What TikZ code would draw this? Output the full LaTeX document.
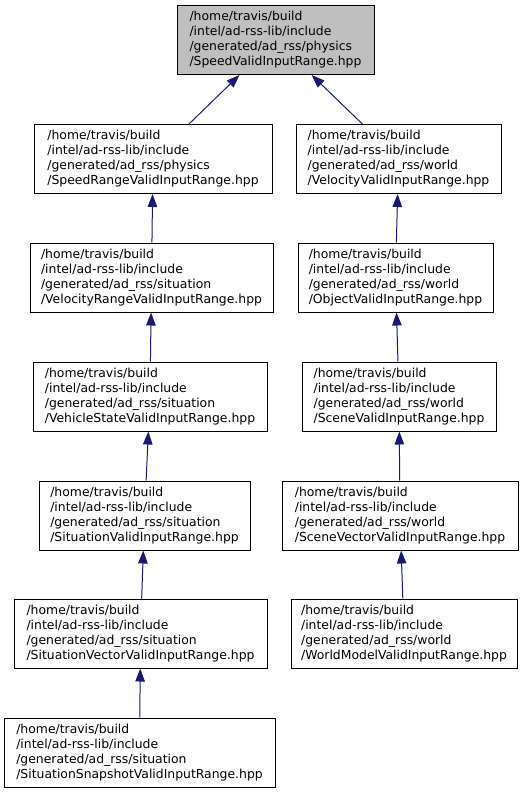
\documentclass[tikz,border=0pt]{standalone}
\usepackage{fontspec}
\setmainfont{DejaVu Sans}
\usepackage{tikz}
\usetikzlibrary{
    positioning,
    arrows.meta
}
\definecolor{edgeBlue}{RGB}{25, 25, 112}
\definecolor{rootGray}{RGB}{191, 191, 191}

\tikzset{
    filebox/.style={draw=black, line width=1pt, fill=white, align=left,
        minimum width=#1, minimum height=69pt, inner sep=0pt,
        font=\fontsize{12.4}{15}\selectfont},
    dep/.style={edgeBlue, line width=1pt, <-}
}

\begin{document}
\begin{tikzpicture}[x=1pt, y=-1pt, >={Triangle[length=13pt, width=9.5pt]}]
                \useasboundingbox (0,0) rectangle (528,793);
                
                % 起点ファイル
                \node[filebox=197pt, fill=rootGray] (speed) at (275.5,40)
                    {/home/travis/build\\/intel/ad-rss-lib/include\\/generated/ad\_rss/physics\\/SpeedValidInputRange.hpp};
                
                % 左列 (physics / situation)
                \node[filebox=238pt] (speedRange) at (153,159)
                    {/home/travis/build\\/intel/ad-rss-lib/include\\/generated/ad\_rss/physics\\/SpeedRangeValidInputRange.hpp};
                \node[filebox=243pt] (velocityRange) at (151.5,277.5)
                    {/home/travis/build\\/intel/ad-rss-lib/include\\/generated/ad\_rss/situation\\/VelocityRangeValidInputRange.hpp};
                \node[filebox=234pt] (vehicleState) at (150,396.5)
                    {/home/travis/build\\/intel/ad-rss-lib/include\\/generated/ad\_rss/situation\\/VehicleStateValidInputRange.hpp};
                \node[filebox=211pt] (situation) at (144.5,515.5)
                    {/home/travis/build\\/intel/ad-rss-lib/include\\/generated/ad\_rss/situation\\/SituationValidInputRange.hpp};
                \node[filebox=253pt] (situationVector) at (140.5,633.5)
                    {/home/travis/build\\/intel/ad-rss-lib/include\\/generated/ad\_rss/situation\\/SituationVectorValidInputRange.hpp};
                \node[filebox=271pt] (situationSnapshot) at (139.5,752.5)
                    {/home/travis/build\\/intel/ad-rss-lib/include\\/generated/ad\_rss/situation\\/SituationSnapshotValidInputRange.hpp};
                
                % 右列 (world)
                \node[filebox=205pt] (velocity) at (398.5,159)
                    {/home/travis/build\\/intel/ad-rss-lib/include\\/generated/ad\_rss/world\\/VelocityValidInputRange.hpp};
                \node[filebox=195pt] (object) at (395.5,277.5)
                    {/home/travis/build\\/intel/ad-rss-lib/include\\/generated/ad\_rss/world\\/ObjectValidInputRange.hpp};
                \node[filebox=194pt] (scene) at (399,396.5)
                    {/home/travis/build\\/intel/ad-rss-lib/include\\/generated/ad\_rss/world\\/SceneValidInputRange.hpp};
                \node[filebox=236pt] (sceneVector) at (400,515.5)
                    {/home/travis/build\\/intel/ad-rss-lib/include\\/generated/ad\_rss/world\\/SceneVectorValidInputRange.hpp};
                \node[filebox=226pt] (worldModel) at (404,633.5)
                    {/home/travis/build\\/intel/ad-rss-lib/include\\/generated/ad\_rss/world\\/WorldModelValidInputRange.hpp};
                
                % 依存関係の矢印
                \draw[dep] (speed) -- (speedRange);
                \draw[dep] (speed) -- (velocity);
                \draw[dep] (speedRange) -- (velocityRange);
                \draw[dep] (velocityRange) -- (vehicleState);
                \draw[dep] (vehicleState) -- (situation);
                \draw[dep] (situation) -- (situationVector);
                \draw[dep] (situationVector) -- (situationSnapshot);
                \draw[dep] (velocity) -- (object);
                \draw[dep] (object) -- (scene);
                \draw[dep] (scene) -- (sceneVector);
                \draw[dep] (sceneVector) -- (worldModel);
            \end{tikzpicture}
\end{document}
